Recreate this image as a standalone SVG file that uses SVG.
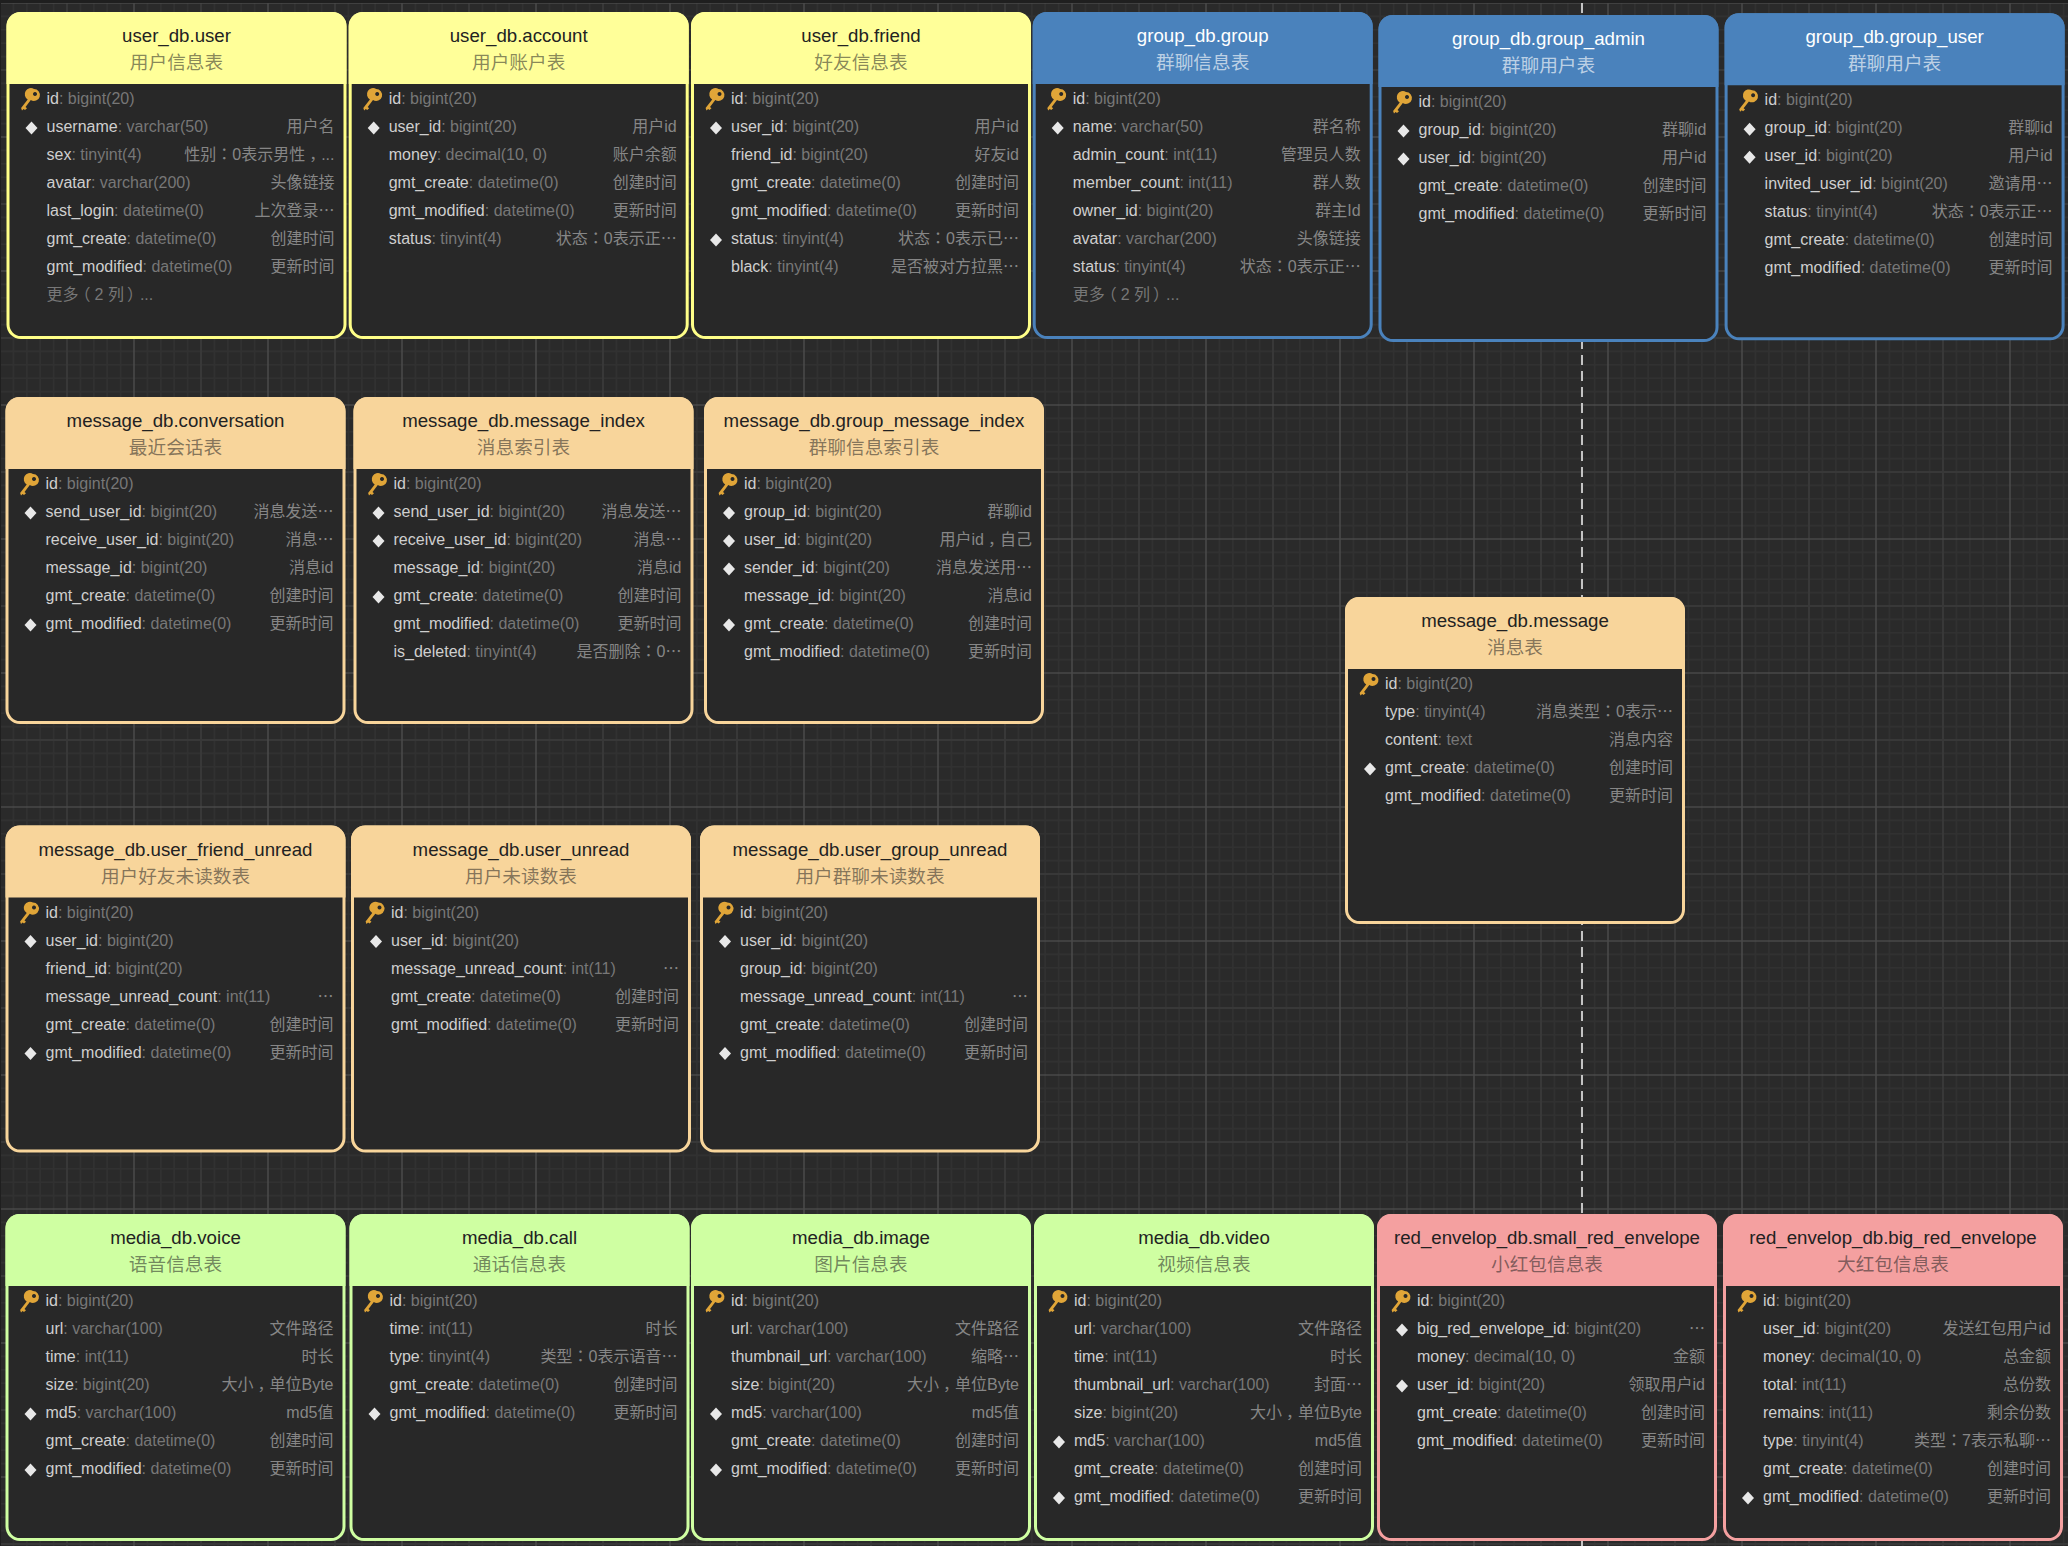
<svg xmlns="http://www.w3.org/2000/svg" width="2068" height="1546" viewBox="0 0 2068 1546">
<style>
text{font-family:"Liberation Sans","Noto Sans CJK SC",sans-serif}
.box{stroke-width:3;fill:#282828;stroke:var(--s)}
.hd{fill:var(--h)}
.ti{font-size:18.67px;text-anchor:middle;fill:var(--f)}
.su{font-size:18.67px;text-anchor:middle;fill:var(--f);fill-opacity:var(--o)}
.n{font-size:16px;fill:#cfcfcf}
.t{fill:#777}
.c{font-size:16px;fill:#868686;text-anchor:end}
.m{font-size:16px;fill:#777}
.e{font-family:"Noto Sans CJK SC",sans-serif}
.k{font-family:"Noto Sans CJK TC",sans-serif}
.yel{--h:#ffff99;--s:#ffff88;--f:#222;--o:.55}
.blu{--h:#4a82bc;--s:#4a82bc;--f:#fff;--o:.65}
.org{--h:#f8d59b;--s:#f8d59b;--f:#222;--o:.55}
.grn{--h:#cfffa2;--s:#cfffa2;--f:#222;--o:.55}
.red{--h:#f4a0a0;--s:#f4a0a0;--f:#222;--o:.55}
</style>
<defs>
<pattern id="grid" width="134" height="134" patternUnits="userSpaceOnUse" patternTransform="translate(0 3)">
<path d="M13.4 0V134M26.8 0V134M40.2 0V134M53.6 0V134M80.4 0V134M93.8 0V134M107.2 0V134M120.6 0V134M0 13.4H134M0 26.8H134M0 40.2H134M0 53.6H134M0 80.4H134M0 93.8H134M0 107.2H134M0 120.6H134" fill="none" stroke="#313131" stroke-width="1.6"/>
<path d="M67 0V134M0 67H134" fill="none" stroke="#383838" stroke-width="2"/>
<path d="M0 0V134M134 0V134M0 0H134M0 134H134" fill="none" stroke="#484848" stroke-width="1.6"/>
</pattern>
<g id="key"><path d="M27.5 77a6 6 0 1 1-3.2 11.1L19 95l1.5 1.2-2 1.8-1.4-1-1.6 1.4-.9-2.4 6.6-8.6A6 6 0 0 1 27.5 77zm1 3a2 2 0 1 0 .01 0z" fill="#e0a538" fill-rule="evenodd"/></g>
<polygon id="dia" points="25,-10.500 31,-4 25,2.500 19,-4" fill="#e8e8e8"/>
<g id="frame"><rect class="box" x="1.500" y="1.500" width="337" height="324" rx="13"/><path class="hd" d="M0 72V14A14 14 0 0 1 14 0H326A14 14 0 0 1 340 14V72Z"/><use href="#key"/></g>
</defs>
<rect width="2068" height="1546" fill="#1f1f1f"/>
<rect x="1" y="3" width="2067" height="1543" fill="#2a2a2a"/>
<rect x="1" y="3" width="2067" height="1543" fill="url(#grid)"/>
<g id="connectors"><path d="M1582 3V1546" fill="none" stroke="#c4c4c4" stroke-width="2" stroke-dasharray="10 6"/></g>

<g id="user_db.user" class="yel" transform="translate(6.5 12)"><use href="#frame"/><text class="ti" x="170" y="30">user_db.user</text><text class="su" x="170" y="57">用户信息表</text>
<text class="n" x="40" y="92">id<tspan class="t">: bigint(20)</tspan></text>
<use href="#dia" y="120"/><text class="n" x="40" y="120">username<tspan class="t">: varchar(50)</tspan></text><text class="c" x="328" y="120">用户名</text>
<text class="n" x="40" y="148">sex<tspan class="t">: tinyint(4)</tspan></text><text class="c" x="328" y="148">性别<tspan class="k">：</tspan>0表示男性<tspan dx="4">，</tspan><tspan dx="-4">...</tspan></text>
<text class="n" x="40" y="176">avatar<tspan class="t">: varchar(200)</tspan></text><text class="c" x="328" y="176">头像链接</text>
<text class="n" x="40" y="204">last_login<tspan class="t">: datetime(0)</tspan></text><text class="c" x="328" y="204">上次登录<tspan class="e">…</tspan></text>
<text class="n" x="40" y="232">gmt_create<tspan class="t">: datetime(0)</tspan></text><text class="c" x="328" y="232">创建时间</text>
<text class="n" x="40" y="260">gmt_modified<tspan class="t">: datetime(0)</tspan></text><text class="c" x="328" y="260">更新时间</text>
<text class="m" x="40" y="288">更多<tspan dx="-4">（</tspan><tspan dx="4">2 列</tspan><tspan dx="3">）</tspan><tspan dx="-3">...</tspan></text></g>

<g id="user_db.account" class="yel" transform="translate(348.700 12)"><use href="#frame"/><text class="ti" x="170" y="30">user_db.account</text><text class="su" x="170" y="57">用户账户表</text>
<text class="n" x="40" y="92">id<tspan class="t">: bigint(20)</tspan></text>
<use href="#dia" y="120"/><text class="n" x="40" y="120">user_id<tspan class="t">: bigint(20)</tspan></text><text class="c" x="328" y="120">用户id</text>
<text class="n" x="40" y="148">money<tspan class="t">: decimal(10, 0)</tspan></text><text class="c" x="328" y="148">账户余额</text>
<text class="n" x="40" y="176">gmt_create<tspan class="t">: datetime(0)</tspan></text><text class="c" x="328" y="176">创建时间</text>
<text class="n" x="40" y="204">gmt_modified<tspan class="t">: datetime(0)</tspan></text><text class="c" x="328" y="204">更新时间</text>
<text class="n" x="40" y="232">status<tspan class="t">: tinyint(4)</tspan></text><text class="c" x="328" y="232">状态<tspan class="k">：</tspan>0表示正<tspan class="e">…</tspan></text></g>

<g id="user_db.friend" class="yel" transform="translate(691 12)"><use href="#frame"/><text class="ti" x="170" y="30">user_db.friend</text><text class="su" x="170" y="57">好友信息表</text>
<text class="n" x="40" y="92">id<tspan class="t">: bigint(20)</tspan></text>
<use href="#dia" y="120"/><text class="n" x="40" y="120">user_id<tspan class="t">: bigint(20)</tspan></text><text class="c" x="328" y="120">用户id</text>
<text class="n" x="40" y="148">friend_id<tspan class="t">: bigint(20)</tspan></text><text class="c" x="328" y="148">好友id</text>
<text class="n" x="40" y="176">gmt_create<tspan class="t">: datetime(0)</tspan></text><text class="c" x="328" y="176">创建时间</text>
<text class="n" x="40" y="204">gmt_modified<tspan class="t">: datetime(0)</tspan></text><text class="c" x="328" y="204">更新时间</text>
<use href="#dia" y="232"/><text class="n" x="40" y="232">status<tspan class="t">: tinyint(4)</tspan></text><text class="c" x="328" y="232">状态<tspan class="k">：</tspan>0表示已<tspan class="e">…</tspan></text>
<text class="n" x="40" y="260">black<tspan class="t">: tinyint(4)</tspan></text><text class="c" x="328" y="260">是否被对方拉黑<tspan class="e">…</tspan></text></g>

<g id="group_db.group" class="blu" transform="translate(1032.700 12)"><use href="#frame"/><text class="ti" x="170" y="30">group_db.group</text><text class="su" x="170" y="57">群聊信息表</text>
<text class="n" x="40" y="92">id<tspan class="t">: bigint(20)</tspan></text>
<use href="#dia" y="120"/><text class="n" x="40" y="120">name<tspan class="t">: varchar(50)</tspan></text><text class="c" x="328" y="120">群名称</text>
<text class="n" x="40" y="148">admin_count<tspan class="t">: int(11)</tspan></text><text class="c" x="328" y="148">管理员人数</text>
<text class="n" x="40" y="176">member_count<tspan class="t">: int(11)</tspan></text><text class="c" x="328" y="176">群人数</text>
<text class="n" x="40" y="204">owner_id<tspan class="t">: bigint(20)</tspan></text><text class="c" x="328" y="204">群主Id</text>
<text class="n" x="40" y="232">avatar<tspan class="t">: varchar(200)</tspan></text><text class="c" x="328" y="232">头像链接</text>
<text class="n" x="40" y="260">status<tspan class="t">: tinyint(4)</tspan></text><text class="c" x="328" y="260">状态<tspan class="k">：</tspan>0表示正<tspan class="e">…</tspan></text>
<text class="m" x="40" y="288">更多<tspan dx="-4">（</tspan><tspan dx="4">2 列</tspan><tspan dx="3">）</tspan><tspan dx="-3">...</tspan></text></g>

<g id="group_db.group_admin" class="blu" transform="translate(1378.500 15)"><use href="#frame"/><text class="ti" x="170" y="30">group_db.group_admin</text><text class="su" x="170" y="57">群聊用户表</text>
<text class="n" x="40" y="92">id<tspan class="t">: bigint(20)</tspan></text>
<use href="#dia" y="120"/><text class="n" x="40" y="120">group_id<tspan class="t">: bigint(20)</tspan></text><text class="c" x="328" y="120">群聊id</text>
<use href="#dia" y="148"/><text class="n" x="40" y="148">user_id<tspan class="t">: bigint(20)</tspan></text><text class="c" x="328" y="148">用户id</text>
<text class="n" x="40" y="176">gmt_create<tspan class="t">: datetime(0)</tspan></text><text class="c" x="328" y="176">创建时间</text>
<text class="n" x="40" y="204">gmt_modified<tspan class="t">: datetime(0)</tspan></text><text class="c" x="328" y="204">更新时间</text></g>

<g id="group_db.group_user" class="blu" transform="translate(1724.600 13.300)"><use href="#frame"/><text class="ti" x="170" y="30">group_db.group_user</text><text class="su" x="170" y="57">群聊用户表</text>
<text class="n" x="40" y="92">id<tspan class="t">: bigint(20)</tspan></text>
<use href="#dia" y="120"/><text class="n" x="40" y="120">group_id<tspan class="t">: bigint(20)</tspan></text><text class="c" x="328" y="120">群聊id</text>
<use href="#dia" y="148"/><text class="n" x="40" y="148">user_id<tspan class="t">: bigint(20)</tspan></text><text class="c" x="328" y="148">用户id</text>
<text class="n" x="40" y="176">invited_user_id<tspan class="t">: bigint(20)</tspan></text><text class="c" x="328" y="176">邀请用<tspan class="e">…</tspan></text>
<text class="n" x="40" y="204">status<tspan class="t">: tinyint(4)</tspan></text><text class="c" x="328" y="204">状态<tspan class="k">：</tspan>0表示正<tspan class="e">…</tspan></text>
<text class="n" x="40" y="232">gmt_create<tspan class="t">: datetime(0)</tspan></text><text class="c" x="328" y="232">创建时间</text>
<text class="n" x="40" y="260">gmt_modified<tspan class="t">: datetime(0)</tspan></text><text class="c" x="328" y="260">更新时间</text></g>

<g id="message_db.conversation" class="org" transform="translate(5.500 397)"><use href="#frame"/><text class="ti" x="170" y="30">message_db.conversation</text><text class="su" x="170" y="57">最近会话表</text>
<text class="n" x="40" y="92">id<tspan class="t">: bigint(20)</tspan></text>
<use href="#dia" y="120"/><text class="n" x="40" y="120">send_user_id<tspan class="t">: bigint(20)</tspan></text><text class="c" x="328" y="120">消息发送<tspan class="e">…</tspan></text>
<text class="n" x="40" y="148">receive_user_id<tspan class="t">: bigint(20)</tspan></text><text class="c" x="328" y="148">消息<tspan class="e">…</tspan></text>
<text class="n" x="40" y="176">message_id<tspan class="t">: bigint(20)</tspan></text><text class="c" x="328" y="176">消息id</text>
<text class="n" x="40" y="204">gmt_create<tspan class="t">: datetime(0)</tspan></text><text class="c" x="328" y="204">创建时间</text>
<use href="#dia" y="232"/><text class="n" x="40" y="232">gmt_modified<tspan class="t">: datetime(0)</tspan></text><text class="c" x="328" y="232">更新时间</text></g>

<g id="message_db.message_index" class="org" transform="translate(353.500 397)"><use href="#frame"/><text class="ti" x="170" y="30">message_db.message_index</text><text class="su" x="170" y="57">消息索引表</text>
<text class="n" x="40" y="92">id<tspan class="t">: bigint(20)</tspan></text>
<use href="#dia" y="120"/><text class="n" x="40" y="120">send_user_id<tspan class="t">: bigint(20)</tspan></text><text class="c" x="328" y="120">消息发送<tspan class="e">…</tspan></text>
<use href="#dia" y="148"/><text class="n" x="40" y="148">receive_user_id<tspan class="t">: bigint(20)</tspan></text><text class="c" x="328" y="148">消息<tspan class="e">…</tspan></text>
<text class="n" x="40" y="176">message_id<tspan class="t">: bigint(20)</tspan></text><text class="c" x="328" y="176">消息id</text>
<use href="#dia" y="204"/><text class="n" x="40" y="204">gmt_create<tspan class="t">: datetime(0)</tspan></text><text class="c" x="328" y="204">创建时间</text>
<text class="n" x="40" y="232">gmt_modified<tspan class="t">: datetime(0)</tspan></text><text class="c" x="328" y="232">更新时间</text>
<text class="n" x="40" y="260">is_deleted<tspan class="t">: tinyint(4)</tspan></text><text class="c" x="328" y="260">是否删除<tspan class="k">：</tspan>0<tspan class="e">…</tspan></text></g>

<g id="message_db.group_message_index" class="org" transform="translate(704 397)"><use href="#frame"/><text class="ti" x="170" y="30">message_db.group_message_index</text><text class="su" x="170" y="57">群聊信息索引表</text>
<text class="n" x="40" y="92">id<tspan class="t">: bigint(20)</tspan></text>
<use href="#dia" y="120"/><text class="n" x="40" y="120">group_id<tspan class="t">: bigint(20)</tspan></text><text class="c" x="328" y="120">群聊id</text>
<use href="#dia" y="148"/><text class="n" x="40" y="148">user_id<tspan class="t">: bigint(20)</tspan></text><text class="c" x="328" y="148">用户id<tspan dx="4">，</tspan><tspan dx="-4">自己</tspan></text>
<use href="#dia" y="176"/><text class="n" x="40" y="176">sender_id<tspan class="t">: bigint(20)</tspan></text><text class="c" x="328" y="176">消息发送用<tspan class="e">…</tspan></text>
<text class="n" x="40" y="204">message_id<tspan class="t">: bigint(20)</tspan></text><text class="c" x="328" y="204">消息id</text>
<use href="#dia" y="232"/><text class="n" x="40" y="232">gmt_create<tspan class="t">: datetime(0)</tspan></text><text class="c" x="328" y="232">创建时间</text>
<text class="n" x="40" y="260">gmt_modified<tspan class="t">: datetime(0)</tspan></text><text class="c" x="328" y="260">更新时间</text></g>

<g id="message_db.message" class="org" transform="translate(1345 597)"><use href="#frame"/><text class="ti" x="170" y="30">message_db.message</text><text class="su" x="170" y="57">消息表</text>
<text class="n" x="40" y="92">id<tspan class="t">: bigint(20)</tspan></text>
<text class="n" x="40" y="120">type<tspan class="t">: tinyint(4)</tspan></text><text class="c" x="328" y="120">消息类型<tspan class="k">：</tspan>0表示<tspan class="e">…</tspan></text>
<text class="n" x="40" y="148">content<tspan class="t">: text</tspan></text><text class="c" x="328" y="148">消息内容</text>
<use href="#dia" y="176"/><text class="n" x="40" y="176">gmt_create<tspan class="t">: datetime(0)</tspan></text><text class="c" x="328" y="176">创建时间</text>
<text class="n" x="40" y="204">gmt_modified<tspan class="t">: datetime(0)</tspan></text><text class="c" x="328" y="204">更新时间</text></g>

<g id="message_db.user_friend_unread" class="org" transform="translate(5.500 825.600)"><use href="#frame"/><text class="ti" x="170" y="30">message_db.user_friend_unread</text><text class="su" x="170" y="57">用户好友未读数表</text>
<text class="n" x="40" y="92">id<tspan class="t">: bigint(20)</tspan></text>
<use href="#dia" y="120"/><text class="n" x="40" y="120">user_id<tspan class="t">: bigint(20)</tspan></text>
<text class="n" x="40" y="148">friend_id<tspan class="t">: bigint(20)</tspan></text>
<text class="n" x="40" y="176">message_unread_count<tspan class="t">: int(11)</tspan></text><text class="c e" x="328" y="176">…</text>
<text class="n" x="40" y="204">gmt_create<tspan class="t">: datetime(0)</tspan></text><text class="c" x="328" y="204">创建时间</text>
<use href="#dia" y="232"/><text class="n" x="40" y="232">gmt_modified<tspan class="t">: datetime(0)</tspan></text><text class="c" x="328" y="232">更新时间</text></g>

<g id="message_db.user_unread" class="org" transform="translate(351 825.600)"><use href="#frame"/><text class="ti" x="170" y="30">message_db.user_unread</text><text class="su" x="170" y="57">用户未读数表</text>
<text class="n" x="40" y="92">id<tspan class="t">: bigint(20)</tspan></text>
<use href="#dia" y="120"/><text class="n" x="40" y="120">user_id<tspan class="t">: bigint(20)</tspan></text>
<text class="n" x="40" y="148">message_unread_count<tspan class="t">: int(11)</tspan></text><text class="c e" x="328" y="148">…</text>
<text class="n" x="40" y="176">gmt_create<tspan class="t">: datetime(0)</tspan></text><text class="c" x="328" y="176">创建时间</text>
<text class="n" x="40" y="204">gmt_modified<tspan class="t">: datetime(0)</tspan></text><text class="c" x="328" y="204">更新时间</text></g>

<g id="message_db.user_group_unread" class="org" transform="translate(700 825.600)"><use href="#frame"/><text class="ti" x="170" y="30">message_db.user_group_unread</text><text class="su" x="170" y="57">用户群聊未读数表</text>
<text class="n" x="40" y="92">id<tspan class="t">: bigint(20)</tspan></text>
<use href="#dia" y="120"/><text class="n" x="40" y="120">user_id<tspan class="t">: bigint(20)</tspan></text>
<text class="n" x="40" y="148">group_id<tspan class="t">: bigint(20)</tspan></text>
<text class="n" x="40" y="176">message_unread_count<tspan class="t">: int(11)</tspan></text><text class="c e" x="328" y="176">…</text>
<text class="n" x="40" y="204">gmt_create<tspan class="t">: datetime(0)</tspan></text><text class="c" x="328" y="204">创建时间</text>
<use href="#dia" y="232"/><text class="n" x="40" y="232">gmt_modified<tspan class="t">: datetime(0)</tspan></text><text class="c" x="328" y="232">更新时间</text></g>

<g id="media_db.voice" class="grn" transform="translate(5.500 1214)"><use href="#frame"/><text class="ti" x="170" y="30">media_db.voice</text><text class="su" x="170" y="57">语音信息表</text>
<text class="n" x="40" y="92">id<tspan class="t">: bigint(20)</tspan></text>
<text class="n" x="40" y="120">url<tspan class="t">: varchar(100)</tspan></text><text class="c" x="328" y="120">文件路径</text>
<text class="n" x="40" y="148">time<tspan class="t">: int(11)</tspan></text><text class="c" x="328" y="148">时长</text>
<text class="n" x="40" y="176">size<tspan class="t">: bigint(20)</tspan></text><text class="c" x="328" y="176">大小<tspan dx="4">，</tspan><tspan dx="-4">单位Byte</tspan></text>
<use href="#dia" y="204"/><text class="n" x="40" y="204">md5<tspan class="t">: varchar(100)</tspan></text><text class="c" x="328" y="204">md5值</text>
<text class="n" x="40" y="232">gmt_create<tspan class="t">: datetime(0)</tspan></text><text class="c" x="328" y="232">创建时间</text>
<use href="#dia" y="260"/><text class="n" x="40" y="260">gmt_modified<tspan class="t">: datetime(0)</tspan></text><text class="c" x="328" y="260">更新时间</text></g>

<g id="media_db.call" class="grn" transform="translate(349.500 1214)"><use href="#frame"/><text class="ti" x="170" y="30">media_db.call</text><text class="su" x="170" y="57">通话信息表</text>
<text class="n" x="40" y="92">id<tspan class="t">: bigint(20)</tspan></text>
<text class="n" x="40" y="120">time<tspan class="t">: int(11)</tspan></text><text class="c" x="328" y="120">时长</text>
<text class="n" x="40" y="148">type<tspan class="t">: tinyint(4)</tspan></text><text class="c" x="328" y="148">类型<tspan class="k">：</tspan>0表示语音<tspan class="e">…</tspan></text>
<text class="n" x="40" y="176">gmt_create<tspan class="t">: datetime(0)</tspan></text><text class="c" x="328" y="176">创建时间</text>
<use href="#dia" y="204"/><text class="n" x="40" y="204">gmt_modified<tspan class="t">: datetime(0)</tspan></text><text class="c" x="328" y="204">更新时间</text></g>

<g id="media_db.image" class="grn" transform="translate(691 1214)"><use href="#frame"/><text class="ti" x="170" y="30">media_db.image</text><text class="su" x="170" y="57">图片信息表</text>
<text class="n" x="40" y="92">id<tspan class="t">: bigint(20)</tspan></text>
<text class="n" x="40" y="120">url<tspan class="t">: varchar(100)</tspan></text><text class="c" x="328" y="120">文件路径</text>
<text class="n" x="40" y="148">thumbnail_url<tspan class="t">: varchar(100)</tspan></text><text class="c" x="328" y="148">缩略<tspan class="e">…</tspan></text>
<text class="n" x="40" y="176">size<tspan class="t">: bigint(20)</tspan></text><text class="c" x="328" y="176">大小<tspan dx="4">，</tspan><tspan dx="-4">单位Byte</tspan></text>
<use href="#dia" y="204"/><text class="n" x="40" y="204">md5<tspan class="t">: varchar(100)</tspan></text><text class="c" x="328" y="204">md5值</text>
<text class="n" x="40" y="232">gmt_create<tspan class="t">: datetime(0)</tspan></text><text class="c" x="328" y="232">创建时间</text>
<use href="#dia" y="260"/><text class="n" x="40" y="260">gmt_modified<tspan class="t">: datetime(0)</tspan></text><text class="c" x="328" y="260">更新时间</text></g>

<g id="media_db.video" class="grn" transform="translate(1034 1214)"><use href="#frame"/><text class="ti" x="170" y="30">media_db.video</text><text class="su" x="170" y="57">视频信息表</text>
<text class="n" x="40" y="92">id<tspan class="t">: bigint(20)</tspan></text>
<text class="n" x="40" y="120">url<tspan class="t">: varchar(100)</tspan></text><text class="c" x="328" y="120">文件路径</text>
<text class="n" x="40" y="148">time<tspan class="t">: int(11)</tspan></text><text class="c" x="328" y="148">时长</text>
<text class="n" x="40" y="176">thumbnail_url<tspan class="t">: varchar(100)</tspan></text><text class="c" x="328" y="176">封面<tspan class="e">…</tspan></text>
<text class="n" x="40" y="204">size<tspan class="t">: bigint(20)</tspan></text><text class="c" x="328" y="204">大小<tspan dx="4">，</tspan><tspan dx="-4">单位Byte</tspan></text>
<use href="#dia" y="232"/><text class="n" x="40" y="232">md5<tspan class="t">: varchar(100)</tspan></text><text class="c" x="328" y="232">md5值</text>
<text class="n" x="40" y="260">gmt_create<tspan class="t">: datetime(0)</tspan></text><text class="c" x="328" y="260">创建时间</text>
<use href="#dia" y="288"/><text class="n" x="40" y="288">gmt_modified<tspan class="t">: datetime(0)</tspan></text><text class="c" x="328" y="288">更新时间</text></g>

<g id="red_envelop_db.small_red_envelope" class="red" transform="translate(1377 1214)"><use href="#frame"/><text class="ti" x="170" y="30">red_envelop_db.small_red_envelope</text><text class="su" x="170" y="57">小红包信息表</text>
<text class="n" x="40" y="92">id<tspan class="t">: bigint(20)</tspan></text>
<use href="#dia" y="120"/><text class="n" x="40" y="120">big_red_envelope_id<tspan class="t">: bigint(20)</tspan></text><text class="c e" x="328" y="120">…</text>
<text class="n" x="40" y="148">money<tspan class="t">: decimal(10, 0)</tspan></text><text class="c" x="328" y="148">金额</text>
<use href="#dia" y="176"/><text class="n" x="40" y="176">user_id<tspan class="t">: bigint(20)</tspan></text><text class="c" x="328" y="176">领取用户id</text>
<text class="n" x="40" y="204">gmt_create<tspan class="t">: datetime(0)</tspan></text><text class="c" x="328" y="204">创建时间</text>
<text class="n" x="40" y="232">gmt_modified<tspan class="t">: datetime(0)</tspan></text><text class="c" x="328" y="232">更新时间</text></g>

<g id="red_envelop_db.big_red_envelope" class="red" transform="translate(1723 1214)"><use href="#frame"/><text class="ti" x="170" y="30">red_envelop_db.big_red_envelope</text><text class="su" x="170" y="57">大红包信息表</text>
<text class="n" x="40" y="92">id<tspan class="t">: bigint(20)</tspan></text>
<text class="n" x="40" y="120">user_id<tspan class="t">: bigint(20)</tspan></text><text class="c" x="328" y="120">发送红包用户id</text>
<text class="n" x="40" y="148">money<tspan class="t">: decimal(10, 0)</tspan></text><text class="c" x="328" y="148">总金额</text>
<text class="n" x="40" y="176">total<tspan class="t">: int(11)</tspan></text><text class="c" x="328" y="176">总份数</text>
<text class="n" x="40" y="204">remains<tspan class="t">: int(11)</tspan></text><text class="c" x="328" y="204">剩余份数</text>
<text class="n" x="40" y="232">type<tspan class="t">: tinyint(4)</tspan></text><text class="c" x="328" y="232">类型<tspan class="k">：</tspan>7表示私聊<tspan class="e">…</tspan></text>
<text class="n" x="40" y="260">gmt_create<tspan class="t">: datetime(0)</tspan></text><text class="c" x="328" y="260">创建时间</text>
<use href="#dia" y="288"/><text class="n" x="40" y="288">gmt_modified<tspan class="t">: datetime(0)</tspan></text><text class="c" x="328" y="288">更新时间</text></g>
</svg>
